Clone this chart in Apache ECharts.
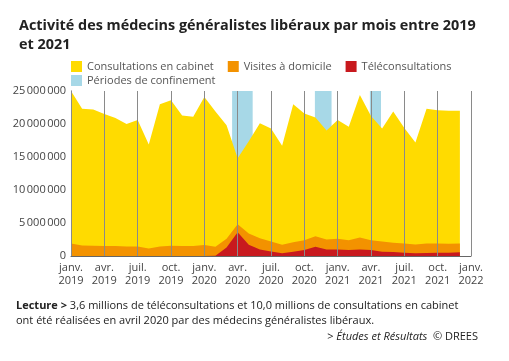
<!DOCTYPE html>
<html><head><meta charset="utf-8">
<script src="https://cdn.jsdelivr.net/npm/echarts@6/dist/echarts.min.js"></script>
<style>html,body{margin:0;padding:0;background:#fff}#c{width:509px;height:361px}</style>
</head><body><div id="c"></div>
<script>
// Months: index 0 = janv. 2019 ... 35 = déc. 2021
const tickLabels = ['janv.\n2019','avr.\n2019','juil.\n2019','oct.\n2019','janv.\n2020','avr.\n2020','juil.\n2020','oct.\n2020','janv.\n2021','avr.\n2021','juil.\n2021','oct.\n2021','janv.\n2022'];
// Millions
const teleconsultations = [0,0,0,0,0,0,0,0,0,0,0,0,0,0.05,1.3,3.6,1.7,1.0,0.7,0.4,0.65,0.9,1.4,1.0,1.0,0.9,1.0,0.9,0.65,0.6,0.5,0.4,0.45,0.5,0.5,0.55];
const visites = [1.9,1.6,1.55,1.5,1.5,1.45,1.45,1.15,1.45,1.55,1.5,1.5,1.65,1.35,1.3,1.2,1.7,1.7,1.5,1.3,1.45,1.5,1.6,1.5,1.6,1.5,1.8,1.5,1.55,1.4,1.4,1.35,1.45,1.4,1.35,1.35];
const consultations = [23.1,20.7,20.65,20.0,19.4,18.55,19.15,15.75,21.55,22.05,19.8,19.6,22.45,20.5,17.2,10.0,14.0,17.4,17.1,15.0,20.9,19.2,18.0,16.5,18.0,17.2,21.6,18.8,17.1,19.9,17.5,15.45,20.4,20.2,20.15,20.1];
// Confinement periods, as month-index positions
const confinements = [[14.5,16.35],[21.95,23.45],[26.9,27.9]];

const M = 1e6;
// cumulative layers (stack computed here; value/value axes)
const layerRed = teleconsultations.map((v,i)=>[i, v*M]);
const layerOrange = teleconsultations.map((v,i)=>[i, (v+visites[i])*M]);
const layerYellow = teleconsultations.map((v,i)=>[i, (v+visites[i]+consultations[i])*M]);
const fmt = v => String(v).replace(/\B(?=(\d{3})+(?!\d))/g,'\u202f');

const C_Y='#FFDB00', C_O='#F39200', C_R='#C8191E', C_B='#A7D8E7';
const chart = echarts.init(document.getElementById('c'), null, {renderer:'canvas'});
const FONT = 'Open Sans';
const legendBase = {itemWidth:11, itemHeight:11, itemGap:14, icon:'rect', orient:'horizontal',
  textStyle:{fontFamily:FONT, fontSize:11, color:'#555'}};
chart.setOption({
  backgroundColor:'#fff',
  animation:false,
  title:{
    text:'Activité des médecins généralistes libéraux par mois entre 2019\net 2021',
    left:14, top:11,
    textStyle:{fontFamily:FONT, fontWeight:'bold', fontSize:14.4, color:'#222', lineHeight:19}
  },
  legend:[
    Object.assign({left:66, top:56, data:['Consultations en cabinet','Visites à domicile','Téléconsultations']}, legendBase),
    Object.assign({left:66, top:70, data:['Périodes de confinement']}, legendBase)
  ],
  grid:{left:71, right:38, top:91, bottom:105},
  xAxis:{
    type:'value', min:0, max:36, interval:3, z:5,
    axisLine:{show:true, lineStyle:{color:'#666'}},
    axisTick:{show:false},
    splitLine:{show:true, lineStyle:{color:'#8a8a8a', width:1}},
    axisLabel:{fontFamily:FONT, fontSize:11, color:'#444', lineHeight:13, margin:5,
      formatter:v=>tickLabels[Math.round(v/3)]}
  },
  yAxis:{
    type:'value', min:0, max:25000000, interval:5000000,
    axisLine:{show:true, lineStyle:{color:'#555'}},
    axisTick:{show:false},
    splitLine:{show:false},
    axisLabel:{fontFamily:FONT, fontSize:11, color:'#444', margin:5, formatter:fmt}
  },
  series:[
    {name:'Consultations en cabinet', type:'line', data:layerYellow, symbol:'none',
     lineStyle:{width:0}, areaStyle:{color:C_Y, opacity:1}, itemStyle:{color:C_Y}, z:2},
    {name:'Visites à domicile', type:'line', data:layerOrange, symbol:'none',
     lineStyle:{width:0}, areaStyle:{color:C_O, opacity:1}, itemStyle:{color:C_O}, z:3},
    {name:'Téléconsultations', type:'line', data:layerRed, symbol:'none',
     lineStyle:{width:0}, areaStyle:{color:C_R, opacity:1}, itemStyle:{color:C_R}, z:4},
    {name:'Périodes de confinement', type:'line', data:[], symbol:'none', z:1,
     itemStyle:{color:C_B}, lineStyle:{width:0},
     markArea:{silent:true, itemStyle:{color:C_B, opacity:1},
       data:confinements.map(p=>[{xAxis:p[0]},{xAxis:p[1]}])}}
  ],
  graphic:[
    {type:'text', left:16, top:298, style:{
      text:'{b|Lecture >} 3,6 millions de téléconsultations et 10,0 millions de consultations en cabinet\nont été réalisées en avril 2020 par des médecins généralistes libéraux.',
      font:'11px "Open Sans"', fill:'#222', lineHeight:15,
      rich:{b:{fontWeight:'bold', fontSize:11, fontFamily:FONT, fill:'#222'}}}},
    {type:'text', right:31, top:331, style:{
      text:'> {i|Études et Résultats}  © DREES',
      font:'11px "Open Sans"', fill:'#222',
      rich:{i:{fontStyle:'italic', fontSize:11, fontFamily:FONT, fill:'#222'}}}}
  ]
});
</script></body></html>
